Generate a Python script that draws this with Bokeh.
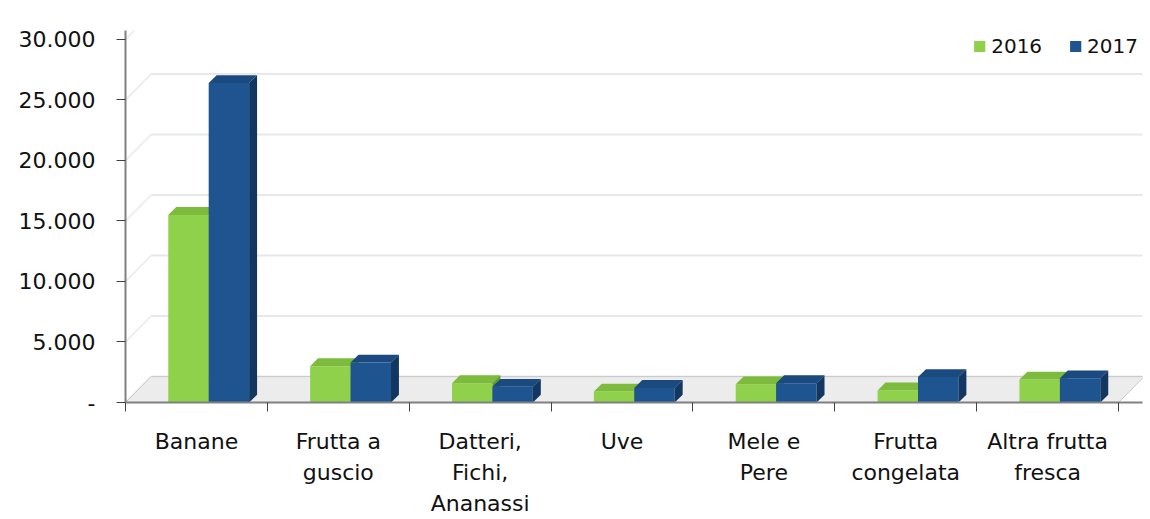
from bokeh.plotting import figure
from bokeh.models import (Range1d, FixedTicker, Legend, LegendItem)
from bokeh.embed import file_html
from bokeh.resources import INLINE

# ---------------- data ----------------
categories = ["Banane", "Frutta a guscio", "Datteri, Fichi, Ananassi", "Uve",
              "Mele e Pere", "Frutta congelata", "Altra frutta fresca"]
category_labels = ["Banane", "Frutta a\nguscio", "Datteri,\nFichi,\nAnanassi", "Uve",
                   "Mele e\nPere", "Frutta\ncongelata", "Altra frutta\nfresca"]
years = ["2016", "2017"]
values_2016 = [15500, 3000, 1600, 900, 1500, 1000, 1900]
values_2017 = [26400, 3300, 1300, 1200, 1600, 2100, 2000]
y_ticks = [0, 5000, 10000, 15000, 20000, 25000, 30000]
y_tick_labels = ["-", "5.000", "10.000", "15.000", "20.000", "25.000", "30.000"]

# ---------------- style ----------------
FONT = "DejaVu Sans"
GREEN = ("#90d14c", "#7cbb3c", "#5f9a2a")   # front, top, side
BLUE = ("#1e5590", "#1a4a7f", "#123760")
n = len(categories)
x_pad = 0.169                 # room right of the last category (floor slant / legend)
y_max = 30740                 # a little room above the top tick for the legend
bw = 0.285
offsets = [0.444, 0.729]
dx, dy = 0.056, 650           # 3D depth of bars (data units)
wall_dx, wall_dy = 0.18, 2140 # depth of back wall

p = figure(width=1146, height=519, x_range=Range1d(0, n + x_pad), y_range=Range1d(0, y_max),
           output_backend="svg", toolbar_location=None,
           min_border_left=125, min_border_right=4, min_border_top=30, min_border_bottom=115)
p.outline_line_color = None
p.xgrid.visible = False
p.ygrid.visible = False
p.background_fill_color = "white"

# back wall gridlines and side wall lines
p.segment(x0=[wall_dx] * len(y_ticks), y0=[v + wall_dy for v in y_ticks],
          x1=[n + wall_dx] * len(y_ticks), y1=[v + wall_dy for v in y_ticks],
          line_color="#e8e8e8", line_width=2)
p.segment(x0=[0] * len(y_ticks), y0=y_ticks,
          x1=[wall_dx] * len(y_ticks), y1=[v + wall_dy for v in y_ticks],
          line_color="#eeeeee", line_width=2)
# floor
p.patch(x=[0, n, n + wall_dx, wall_dx], y=[0, 0, wall_dy, wall_dy],
        fill_color="#ececec", line_color="#c8c8c8", line_width=1)

renderers = []
for vals, off, cols in [(values_2016, offsets[0], GREEN), (values_2017, offsets[1], BLUE)]:
    xc = [i + off for i in range(n)]
    r = p.vbar(x=xc, top=vals, bottom=0, width=bw, fill_color=cols[0], line_color=None)
    renderers.append(r)
    top_xs = [[x - bw / 2, x - bw / 2 + dx, x + bw / 2 + dx, x + bw / 2] for x in xc]
    top_ys = [[t, t + dy, t + dy, t] for t in vals]
    p.patches(xs=top_xs, ys=top_ys, fill_color=cols[1], line_color=None)
    side_xs = [[x + bw / 2, x + bw / 2 + dx, x + bw / 2 + dx, x + bw / 2] for x in xc]
    side_ys = [[0, dy, t + dy, t] for t in vals]
    p.patches(xs=side_xs, ys=side_ys, fill_color=cols[2], line_color=None)

# y axis
ya = p.yaxis[0]
ya.ticker = FixedTicker(ticks=y_ticks)
ya.major_label_overrides = dict(zip(y_ticks, y_tick_labels))
ya.minor_tick_line_color = None
ya.major_tick_in = 0
ya.major_tick_out = 9
ya.major_label_standoff = 21
ya.major_label_text_font = FONT
ya.major_label_text_font_size = "22px"
ya.major_label_text_color = "#111111"
ya.axis_line_color = "#808080"
ya.axis_line_width = 2
ya.major_tick_line_color = "#404040"

# x axis: labels at category centres, tick marks (minor) at category boundaries
centres = [i + 0.5 for i in range(n)]
xa = p.xaxis[0]
xa.ticker = FixedTicker(ticks=centres, minor_ticks=list(range(n + 1)))
xa.major_label_overrides = dict(zip(centres, category_labels))
xa.major_tick_line_color = None
xa.major_tick_in = 0
xa.major_tick_out = 0
xa.minor_tick_in = 0
xa.minor_tick_out = 9
xa.minor_tick_line_color = "#404040"
xa.axis_line_color = "#808080"
xa.axis_line_width = 2
xa.major_label_text_font = FONT
xa.major_label_text_font_size = "22px"
xa.major_label_text_line_height = 1.25
xa.major_label_text_color = "#111111"
xa.major_label_standoff = 17

legend = Legend(items=[LegendItem(label=years[0], renderers=[renderers[0]]),
                       LegendItem(label=years[1], renderers=[renderers[1]])],
                orientation="horizontal", location="top_right",
                glyph_width=14, glyph_height=14, label_text_font=FONT,
                label_text_font_size="20px", label_text_color="#111111",
                label_height=20,
                border_line_color=None, background_fill_alpha=0,
                padding=0, spacing=26, label_standoff=5, margin=4)
p.add_layout(legend)

open("out.html", "w").write(file_html(p, INLINE))
